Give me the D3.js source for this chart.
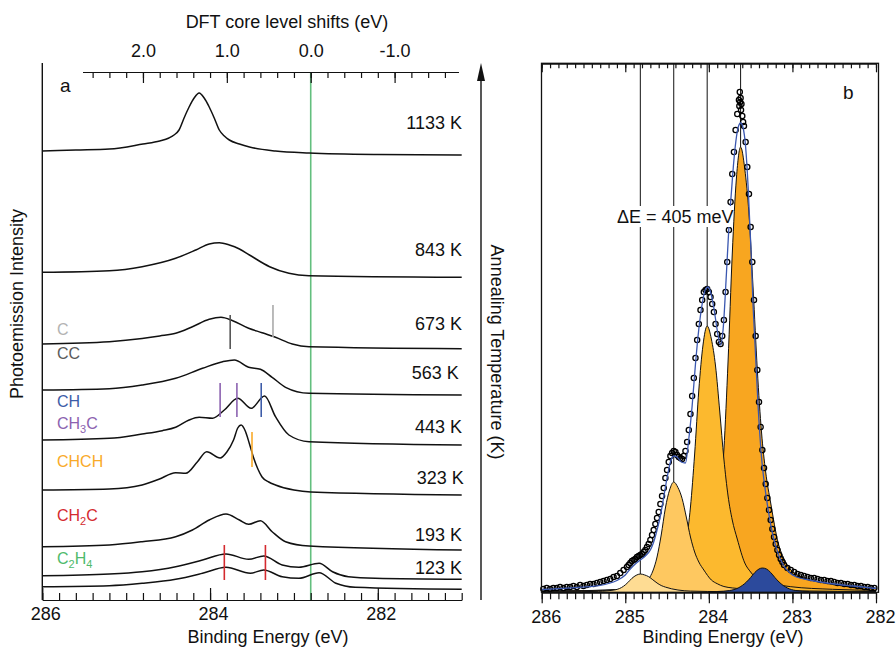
<!DOCTYPE html>
<html>
<head>
<meta charset="utf-8">
<script src="https://cdn.jsdelivr.net/npm/d3@7"></script>
<style>
body { margin: 0; background: #fff; }
svg text { font-family: "Liberation Sans", Arial, sans-serif; fill: #111; }
</style>
</head>
<body>
<div id="chart"></div>
<script>
// ---------- panel a : C 1s spectra after annealing ----------
// each spectrum: [binding energy (eV), intensity (arb. units, offset included)]
var spec1133 = [[286.0, 447], [285.6, 448], [285.2, 449], [284.8, 454], [284.6, 457], [284.49, 460], [284.43, 463],
    [284.37, 468], [284.31, 480], [284.25, 491], [284.19, 500], [284.13, 505], [284.07, 500], [284.01, 491],
    [283.95, 480], [283.89, 468], [283.83, 462], [283.77, 458], [283.65, 454], [283.53, 451], [283.22, 447],
    [282.82, 445], [282.0, 443.5], [281.0, 443]];
var spec843 = [[286.0, 325.7], [285.2, 327.3], [284.81, 331.3], [284.41, 339.7], [284.17, 348], [284.01, 354],
    [283.89, 355.3], [283.77, 353], [283.65, 349], [283.53, 343], [283.29, 331.3], [283.06, 324.7], [282.82, 322.3],
    [281.0, 320.7]];
var spec673 = [[286.0, 254], [285.2, 256.3], [284.81, 259.5], [284.6, 262], [284.41, 264.7], [284.21, 271.3],
    [284.01, 278.7], [283.87, 280.7], [283.73, 277.3], [283.54, 269.7], [283.38, 265.3], [283.22, 260.7],
    [283.02, 254], [282.82, 251.3], [281.0, 249.3]];
var spec563 = [[286.0, 208], [285.2, 209.3], [284.81, 213], [284.41, 219.7], [284.09, 229.7], [283.85, 236.3],
    [283.71, 238], [283.54, 230.7], [283.40, 228.7], [283.26, 220.7], [283.10, 210.7], [282.82, 204.7], [281.0, 203]];
var spec443 = [[286.0, 158], [285.2, 159.7], [284.81, 164], [284.57, 167.3], [284.41, 170.7], [284.25, 178],
    [284.13, 180.7], [283.97, 179.7], [283.83, 188], [283.67, 199.7], [283.51, 189.7], [283.35, 202],
    [283.22, 181.3], [283.06, 163], [282.82, 156.3], [281.0, 153]];
var spec323 = [[286.0, 108], [285.2, 109], [284.81, 113], [284.61, 118.7], [284.41, 125.3], [284.29, 124.7],
    [284.15, 136.3], [284.04, 146.3], [283.88, 140], [283.80, 146], [283.72, 158], [283.67, 170], [283.63, 173],
    [283.58, 167], [283.53, 154], [283.48, 140], [283.43, 129], [283.38, 121], [283.30, 116], [283.22, 113],
    [283.0, 108], [282.8, 106], [281.0, 103]];
var spec193 = [[286.0, 51.3], [285.2, 53], [284.81, 56.3], [284.41, 61.3], [284.21, 68], [284.01, 78],
    [283.81, 84], [283.65, 78], [283.54, 73.7], [283.40, 77.3], [283.26, 66.3], [283.10, 56.3], [282.82, 52],
    [281.0, 48]];
var spec123 = [[286.0, 22.3], [285.2, 24], [284.81, 26.3], [284.41, 31.3], [284.09, 38], [283.81, 44],
    [283.54, 38.7], [283.36, 42], [283.14, 33], [282.94, 30.7], [282.70, 34.7], [282.54, 26.3], [282.35, 21.3],
    [282.03, 19.7], [281.0, 18.7]];
var spec123b = [[286.0, 11.3], [285.2, 12.3], [284.81, 14.7], [284.41, 18.7], [284.09, 24.7], [283.81, 30.7],
    [283.52, 24.7], [283.36, 28], [283.14, 21.3], [282.94, 19.7], [282.70, 25.3], [282.50, 14.7], [282.27, 10.7],
    [281.0, 8.7]];

var spectraA = [spec1133, spec843, spec673, spec563, spec443, spec323, spec193, spec123, spec123b];
var temps = ["1133 K", "843 K", "673 K", "563 K", "443 K", "323 K", "193 K", "123 K"];

var dftZero = 282.8;                       // binding energy of the 0.0 eV DFT shift
var dftMajor = [2.0, 1.0, 0.0, -1.0];

var speciesNames = ["C", "CC", "CH", "CH_3C", "CHCH", "CH_2C", "C_2H_4"];
var speciesColors = ["#b3b3b3", "#5b5b5b", "#3d5ca8", "#8c62b0", "#f9aa2a", "#d42a2f", "#4fba6c"];

// DFT markers: energy, low / high intensity, colour
var markerE = [283.76, 283.25, 283.88, 283.68, 283.39, 283.50, 283.83, 283.34];
var markerLo = [249, 261, 181, 181, 181, 131, 18, 18];
var markerHi = [283, 293, 215, 215, 215, 166, 53, 53];
var markerColors = ["#555555", "#aaaaaa", "#8c62b0", "#8c62b0", "#3d5ca8", "#f9aa2a", "#d42a2f", "#d42a2f"];

// ---------- panel b : peak fit of the 323 K spectrum ----------
var fitLines = [284.82, 284.42, 284.02, 283.62];
var compC1 = [[285.97, 0.15], [285.52, 0.35], [285.32, 0.65], [285.12, 2.2], [285.02, 5.8], [284.97, 9.4],
    [284.92, 13.7], [284.87, 16.7], [284.82, 18], [284.77, 17.1], [284.72, 15.3], [284.67, 12.2], [284.62, 9],
    [284.57, 6.5], [284.52, 4.9], [284.37, 2], [284.22, 0.9], [284.02, 0.55], [283.82, 0.35], [282.0, 0.05]];
var compC2 = [[286.0, 0.5], [285.42, 1.1], [285.12, 2], [284.92, 3.9], [284.82, 6.6], [284.72, 13], [284.67, 21],
    [284.62, 35], [284.57, 57], [284.52, 84], [284.47, 102], [284.42, 110], [284.37, 104.5], [284.32, 93.5],
    [284.27, 75], [284.22, 55], [284.17, 40], [284.12, 30], [284.06, 22], [283.97, 12], [283.90, 8.3],
    [283.82, 5.5], [283.62, 3.3], [283.42, 2.2], [282.92, 1.1], [282.0, 0.5]];
var compC3 = [[286.0, 0.8], [285.49, 1.3], [284.99, 2.7], [284.69, 4.5], [284.49, 9.5], [284.42, 16], [284.32, 32],
    [284.27, 51], [284.22, 85], [284.17, 138], [284.12, 202], [284.07, 247], [284.02, 266], [283.97, 253],
    [283.92, 226], [283.87, 181], [283.82, 133], [283.77, 96], [283.72, 72], [283.66, 53], [283.57, 29],
    [283.50, 20], [283.42, 13], [283.22, 8], [283.02, 5.3], [282.52, 2.7], [282.0, 1.6]];
var compC4 = [[286.0, 1.1], [285.6, 1.3], [285.1, 2.2], [284.6, 4.5], [284.3, 8], [284.1, 17], [284.0, 27],
    [283.92, 53], [283.87, 85], [283.82, 142], [283.77, 231], [283.72, 338], [283.67, 414], [283.62, 445],
    [283.57, 423], [283.52, 378], [283.47, 303], [283.42, 222], [283.37, 160], [283.32, 120], [283.26, 89],
    [283.17, 49], [283.10, 33], [283.02, 22], [282.82, 13], [282.62, 9], [282.12, 4.5], [282.0, 4]];
var compC5 = [[283.9, 0.5], [283.75, 1.5], [283.65, 4], [283.55, 10], [283.50, 14.5], [283.45, 19.5], [283.40, 23],
    [283.36, 24], [283.31, 23], [283.26, 19.5], [283.21, 14.5], [283.16, 10], [283.06, 4], [282.96, 1.5], [282.8, 0.5]];
var compColors = ["#fedc93", "#fec860", "#fcb92e", "#f8a620", "#2c4a9c"];

var fitEnvelope = [[286.0, 2.5], [285.8, 3.3], [285.6, 4.3], [285.4, 5.6], [285.3, 6.7], [285.2, 8.5], [285.1, 11.5],
    [285.0, 17], [284.94, 23], [284.88, 28], [284.82, 32], [284.76, 36], [284.70, 42], [284.66, 50], [284.62, 62],
    [284.58, 76], [284.55, 90], [284.50, 114], [284.46, 130], [284.42, 136], [284.38, 135], [284.33, 130],
    [284.28, 129], [284.24, 153], [284.20, 186], [284.16, 228], [284.12, 263], [284.08, 288], [284.04, 303],
    [284.01, 305], [283.98, 300], [283.94, 284], [283.90, 262], [283.86, 247], [283.83, 262], [283.79, 318],
    [283.76, 365], [283.73, 400], [283.70, 432], [283.67, 455], [283.64, 467], [283.62, 469], [283.59, 464],
    [283.56, 445], [283.53, 405], [283.50, 350], [283.47, 285], [283.45, 252], [283.41, 185], [283.37, 135],
    [283.33, 105], [283.31, 93], [283.25, 63], [283.19, 43], [283.11, 27], [283.03, 19], [282.95, 15],
    [282.80, 12], [282.67, 10], [282.50, 8], [282.27, 6], [282.0, 3.5]];

var measured = [[285.98, 3], [285.94, 4], [285.90, 3], [285.86, 4], [285.82, 4], [285.78, 5], [285.74, 4],
    [285.70, 5], [285.66, 5], [285.62, 6], [285.58, 5], [285.54, 7], [285.50, 6], [285.46, 7], [285.42, 8],
    [285.38, 8], [285.34, 9], [285.30, 10], [285.26, 11], [285.22, 12], [285.18, 13], [285.14, 15], [285.10, 16],
    [285.06, 19], [285.02, 22], [284.98, 25], [284.96, 27], [284.94, 29], [284.92, 31], [284.90, 32], [284.88, 33],
    [284.86, 35], [284.84, 36], [284.82, 37], [284.80, 38], [284.78, 40], [284.76, 42], [284.74, 45], [284.72, 48],
    [284.70, 52], [284.68, 57], [284.66, 62], [284.64, 68], [284.62, 74], [284.60, 80], [284.58, 88], [284.56, 96],
    [284.54, 104], [284.52, 114], [284.50, 122], [284.48, 130], [284.46, 136], [284.44, 139], [284.42, 141],
    [284.40, 140], [284.38, 137], [284.36, 135], [284.34, 134], [284.32, 133], [284.30, 136], [284.28, 141],
    [284.26, 150], [284.24, 162], [284.22, 178], [284.20, 196], [284.18, 214], [284.16, 234], [284.14, 252],
    [284.12, 268], [284.10, 282], [284.08, 292], [284.06, 300], [284.04, 302], [284.02, 303], [284.00, 300],
    [283.98, 295], [283.96, 288], [283.94, 280], [283.92, 268], [283.90, 258], [283.88, 250], [283.86, 248],
    [283.84, 256], [283.82, 272], [283.80, 300], [283.78, 330], [283.76, 362], [283.74, 390], [283.72, 418],
    [283.70, 440], [283.68, 462], [283.66, 478], [283.64, 492], [283.635, 486], [283.63, 500], [283.625, 490],
    [283.62, 494], [283.615, 482], [283.61, 488], [283.60, 476], [283.59, 470], [283.58, 466], [283.56, 450],
    [283.54, 425], [283.52, 398], [283.50, 365], [283.48, 330], [283.46, 292], [283.44, 256], [283.42, 222],
    [283.40, 190], [283.38, 165], [283.36, 142], [283.34, 124], [283.32, 108], [283.30, 94], [283.28, 82],
    [283.26, 72], [283.24, 63], [283.22, 55], [283.20, 48], [283.18, 42], [283.16, 37], [283.14, 33], [283.12, 30],
    [283.10, 27], [283.06, 24], [283.02, 22], [282.98, 20], [282.94, 18], [282.90, 17], [282.86, 16], [282.82, 15],
    [282.78, 14], [282.74, 14], [282.70, 13], [282.66, 12], [282.62, 12], [282.58, 11], [282.54, 11], [282.50, 10],
    [282.46, 9], [282.42, 9], [282.38, 8], [282.34, 8], [282.30, 7], [282.26, 7], [282.22, 6], [282.18, 6],
    [282.14, 5], [282.10, 5], [282.06, 4], [282.02, 4]];


var svg = d3.select("#chart").append("svg")
    .attr("width", 896)
    .attr("height", 650);

// ===================== panel a =====================
var xA = d3.scaleLinear().domain([286, 281]).range([42.3, 461.7]);
var yA = d3.scaleLinear().domain([0, 526]).range([598, 72]);
var axisBottomY = 600, axisTopY = 72;

// DFT shift scale shares the pixel mapping of the binding energy axis
var xTop = d3.scaleLinear()
    .domain([2.72, -1.76])
    .range([xA(2.72 + dftZero), xA(-1.76 + dftZero)]);

var gA = svg.append("g");

// green 0.0 eV line
gA.append("line")
    .attr("x1", xA(dftZero)).attr("x2", xA(dftZero))
    .attr("y1", axisTopY).attr("y2", axisBottomY)
    .attr("stroke", "#63bf7e").attr("stroke-width", 1.6);

// bottom axis
var minorA = d3.range(0, 26).map(function(i) { return 286 - i * 0.2; });
gA.append("g")
    .attr("transform", "translate(0," + axisBottomY + ")")
    .call(d3.axisBottom(xA).tickValues(minorA).tickSize(-7).tickSizeOuter(0).tickFormat(""));
gA.append("g")
    .attr("transform", "translate(0," + axisBottomY + ")")
    .call(d3.axisBottom(xA).tickValues([286, 284, 282]).tickSize(-12).tickSizeOuter(0).tickPadding(7)
        .tickFormat(function(d) { return d; }))
    .selectAll("text").attr("dx", 3).style("font-size", "18px");

// top DFT axis
var minorTop = d3.range(0, 22).map(function(i) { return 2.6 - i * 0.2; });
gA.append("g")
    .attr("transform", "translate(0," + axisTopY + ")")
    .call(d3.axisTop(xTop).tickValues(minorTop).tickSize(-6).tickSizeOuter(0).tickFormat(""));
gA.append("g")
    .attr("transform", "translate(0," + axisTopY + ")")
    .call(d3.axisTop(xTop).tickValues(dftMajor).tickSize(-11).tickSizeOuter(0).tickPadding(15)
        .tickFormat(function(d) { return d.toFixed(1); }))
    .selectAll("text").style("font-size", "18px");

svg.selectAll(".domain, .tick line").attr("stroke", "#111").attr("stroke-width", 1.2);

// left axis line
gA.append("line")
    .attr("x1", xA(286)).attr("x2", xA(286))
    .attr("y1", 63).attr("y2", axisBottomY)
    .attr("stroke", "#111").attr("stroke-width", 1.4);

// temperature arrow on the right
gA.append("line")
    .attr("x1", 481).attr("x2", 481)
    .attr("y1", axisBottomY).attr("y2", 80)
    .attr("stroke", "#111").attr("stroke-width", 1.4);
gA.append("path")
    .attr("d", "M481,63 L485,81 L477,81 Z")
    .attr("fill", "#111");

// spectra
var lineA = d3.line()
    .x(function(d) { return xA(d[0]); })
    .y(function(d) { return yA(d[1]); })
    .curve(d3.curveMonotoneX);

gA.selectAll(".spec")
    .data(spectraA)
    .enter()
    .append("path")
    .attr("class", "spec")
    .attr("d", lineA)
    .attr("fill", "none")
    .attr("stroke", "#111")
    .attr("stroke-width", 1.5);

// DFT markers
gA.selectAll(".marker")
    .data(markerE)
    .enter()
    .append("line")
    .attr("x1", function(d) { return xA(d); })
    .attr("x2", function(d) { return xA(d); })
    .attr("y1", function(d, i) { return yA(markerLo[i]); })
    .attr("y2", function(d, i) { return yA(markerHi[i]); })
    .attr("stroke", function(d, i) { return markerColors[i]; })
    .attr("stroke-width", 1.6);

// temperature labels
var tempBaseline = [129, 256, 330, 379, 432.7, 484, 541, 574];
var tempRight = [462, 462, 462, 458.7, 462, 463.7, 462, 462];
for (var i = 0; i < temps.length; i++) {
    gA.append("text")
        .attr("x", tempRight[i])
        .attr("y", tempBaseline[i])
        .attr("text-anchor", "end")
        .style("font-size", "18px")
        .text(temps[i]);
}

// species labels with subscripts
var speciesBaseline = [339, 362.7, 410.7, 432.7, 471, 525, 567.7];
for (var i = 0; i < speciesNames.length; i++) {
    var t = gA.append("text")
        .attr("x", 57)
        .attr("y", speciesBaseline[i])
        .style("font-size", "16px")
        .style("fill", speciesColors[i]);
    var parts = speciesNames[i].split(/(_\d)/).filter(function(s) { return s.length; });
    parts.forEach(function(p) {
        if (p[0] == "_") {
            t.append("tspan").attr("dy", 4).style("font-size", "11px").text(p.slice(1));
        } else {
            t.append("tspan").attr("dy", t.selectAll("tspan").size() ? -4 : 0).text(p);
        }
    });
}

gA.append("text").attr("x", 60).attr("y", 92).style("font-size", "19px").text("a");

gA.append("text")
    .attr("x", 287).attr("y", 28)
    .attr("text-anchor", "middle")
    .style("font-size", "18px")
    .text("DFT core level shifts (eV)");

gA.append("text")
    .attr("x", 268).attr("y", 643)
    .attr("text-anchor", "middle")
    .style("font-size", "18px")
    .text("Binding Energy (eV)");

gA.append("text")
    .attr("transform", "translate(23,304) rotate(-90)")
    .attr("text-anchor", "middle")
    .style("font-size", "18px")
    .text("Photoemission Intensity");

gA.append("text")
    .attr("transform", "translate(491,352) rotate(90)")
    .attr("text-anchor", "middle")
    .style("font-size", "18px")
    .text("Annealing Temperature (K)");

// ===================== panel b =====================
var xB = d3.scaleLinear().domain([286, 282]).range([541.7, 876]);
var yB = d3.scaleLinear().domain([0, 529]).range([592, 63]);
var gB = svg.append("g");

var areaB = d3.area()
    .x(function(d) { return xB(d[0]); })
    .y0(yB(0))
    .y1(function(d) { return yB(d[1]); })
    .curve(d3.curveMonotoneX);
var lineB = d3.line()
    .x(function(d) { return xB(d[0]); })
    .y(function(d) { return yB(d[1]); })
    .curve(d3.curveMonotoneX);

// drawing order: C4 at the back, blue component in front
var comps = [compC4, compC3, compC2, compC1, compC5];
var compFill = [compColors[3], compColors[2], compColors[1], compColors[0], compColors[4]];
comps.forEach(function(c, i) {
    gB.append("path").attr("d", areaB(c)).attr("fill", compFill[i]);
    gB.append("path").attr("d", lineB(c)).attr("fill", "none")
        .attr("stroke", "#111").attr("stroke-width", 1);
});

// component position lines, from the top frame down to each component maximum
var compTops = [compC1, compC2, compC3, compC4].map(function(c) { return d3.max(c, function(d) { return d[1]; }); });
gB.selectAll(".pos")
    .data(fitLines)
    .enter()
    .append("line")
    .attr("x1", function(d) { return xB(d); })
    .attr("x2", function(d) { return xB(d); })
    .attr("y1", yB.range()[1])
    .attr("y2", function(d, i) { return yB(compTops[i]); })
    .attr("stroke", "#111")
    .attr("stroke-width", 1);

// measured points
gB.selectAll(".pt")
    .data(measured)
    .enter()
    .append("circle")
    .attr("cx", function(d) { return xB(d[0]); })
    .attr("cy", function(d) { return yB(d[1]); })
    .attr("r", 2.6)
    .attr("fill", "none")
    .attr("stroke", "#000")
    .attr("stroke-width", 1.3);

// fit envelope
gB.append("path")
    .attr("d", lineB(fitEnvelope))
    .attr("fill", "none")
    .attr("stroke", "#3a57b0")
    .attr("stroke-width", 1.3);

// delta E label
gB.append("rect")
    .attr("x", 615).attr("y", 206).attr("width", 118).attr("height", 21)
    .attr("fill", "#fff");
gB.append("text")
    .attr("x", 617).attr("y", 223)
    .style("font-size", "18px")
    .text("\u0394E = 405 meV");

// frame + axes
var minorB = d3.range(0, 41).map(function(i) { return 286 - i * 0.1; });
gB.append("g")
    .attr("transform", "translate(0,592.3)")
    .call(d3.axisBottom(xB).tickValues(minorB).tickSize(7).tickSizeOuter(0).tickFormat(""));
gB.append("g")
    .attr("transform", "translate(0,592.3)")
    .call(d3.axisBottom(xB).tickValues([286, 285, 284, 283, 282]).tickSize(11).tickSizeOuter(0).tickPadding(7)
        .tickFormat(function(d) { return d; }))
    .selectAll("text").attr("dx", 4).style("font-size", "18px");
gB.append("g")
    .attr("transform", "translate(0,63.3)")
    .call(d3.axisTop(xB).tickValues(minorB).tickSize(-5).tickSizeOuter(0).tickFormat(""));
gB.append("g")
    .attr("transform", "translate(0,63.3)")
    .call(d3.axisTop(xB).tickValues([286, 285, 284, 283, 282]).tickSize(-9).tickSizeOuter(0).tickFormat(""));
gB.selectAll(".domain, .tick line").attr("stroke", "#111").attr("stroke-width", 1.2);

gB.append("rect")
    .attr("x", 541.5).attr("y", 63.3)
    .attr("width", 337).attr("height", 529)
    .attr("fill", "none")
    .attr("stroke", "#111")
    .attr("stroke-width", 1.3);

gB.append("text").attr("x", 843).attr("y", 99).style("font-size", "19px").text("b");

gB.append("text")
    .attr("x", 723).attr("y", 643)
    .attr("text-anchor", "middle")
    .style("font-size", "18px")
    .text("Binding Energy (eV)");
</script>
</body>
</html>
